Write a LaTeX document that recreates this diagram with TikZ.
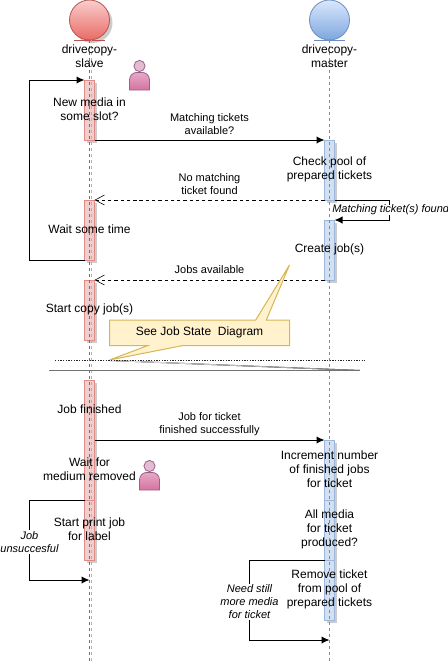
\documentclass[tikz,border=0pt]{standalone}
\usepackage{fontspec}
\setmainfont{Liberation Sans}
\usepackage{tikz}
\usetikzlibrary{arrows.meta, shadows}

\definecolor{slaveline}{HTML}{B85450}
\definecolor{slaveedge}{HTML}{E08A88}
\definecolor{slavefill}{HTML}{EFCFCE}
\definecolor{slavetop}{HTML}{F8CECC}
\definecolor{slavebot}{HTML}{EA6B66}
\definecolor{masterline}{HTML}{6C8EBF}
\definecolor{masteredge}{HTML}{9DB7DC}
\definecolor{masterfill}{HTML}{D3E0F1}
\definecolor{mastertop}{HTML}{DAE8FC}
\definecolor{masterbot}{HTML}{7EA6E0}
\definecolor{noteline}{HTML}{D6B656}
\definecolor{notefill}{HTML}{FFF2CC}
\definecolor{personline}{HTML}{996185}
\definecolor{persontop}{HTML}{E6A9C8}
\definecolor{personbot}{HTML}{D5739D}
\definecolor{personhead}{HTML}{E3BCD3}

\tikzset{
	grayshadow/.style={general shadow={shadow xshift=2pt, shadow yshift=-2pt, fill=black!20}},
	slavebox/.style={draw=slaveedge, fill=slavefill, minimum width=7.5pt, inner sep=0pt, outer sep=0pt, line width=0.75pt, grayshadow},
	masterbox/.style={draw=masteredge, fill=masterfill, minimum width=7.5pt, inner sep=0pt, outer sep=0pt, line width=0.75pt, grayshadow},
	headcircle/.style={circle, minimum size=30pt, inner sep=0pt, outer sep=0pt, line width=0.6pt},
	lifeline/.style={dashed, dash pattern=on 2.5pt off 2pt, line width=0.5pt},
	msg/.style={line width=0.75pt, -{Latex[length=6pt, width=5.5pt]}},
	reply/.style={line width=0.75pt, dash pattern=on 2.5pt off 2.2pt, -{Straight Barb[length=7pt, width=7.5pt, line width=0.45pt]}},
	label/.style={align=center, inner sep=0pt, font=\fontsize{9}{10.5}\selectfont},
	small/.style={align=center, inner sep=0pt, font=\fontsize{8.25}{9.75}\selectfont},
	guard/.style={align=center, inner sep=0.8pt, fill=white, font=\fontsize{8.25}{9.75}\selectfont\itshape},
	person/.pic={
		\draw[personline, line width=0.6pt, top color=persontop, bottom color=personbot]
			(-10,24) -- (-10,14) .. controls (-10,9) and (-6,6.5) .. (-3,6.5) -- (3,6.5) .. controls (6,6.5) and (10,9) .. (10,14) -- (10,24) -- cycle;
		\draw[personline, line width=0.6pt, fill=personhead] (0,0) circle (5.6);
	},
}

\begin{document}
\begin{tikzpicture}[x=0.75pt, y=-0.75pt]
	\useasboundingbox (0,0) rectangle (447,664);

	% kopf der beiden spalten
	\fill[black!20] (92.5,23) circle (20);
	\node[headcircle, draw=slaveline, top color=slavetop, bottom color=slavebot] (slave) at (89.5,20) {};
	\node[headcircle, draw=masterline, top color=mastertop, bottom color=masterbot] (master) at (329.5,20) {};
	\draw[slaveline, line width=0.6pt] (74,40.5) -- (105,40.5);
	\draw[masterline, line width=0.6pt] (314,40.5) -- (345,40.5);
	\coordinate (slaveend) at (89.5,664);
	\coordinate (masterend) at (329.5,664);

	% balken links
	\node[slavebox, minimum height=45pt] (slaveA) at (89.5,110) {};
	\node[slavebox, minimum height=45pt] (slaveB) at (89.5,230) {};
	\node[slavebox, minimum height=45pt] (slaveC) at (89.5,310) {};
	\node[slavebox, minimum height=90pt] (slaveD) at (89.5,440) {};
	\node[slavebox, minimum height=45pt] (slaveE) at (89.5,530) {};

	% balken rechts
	\node[masterbox, minimum height=45pt] (masterA) at (329.5,170) {};
	\node[masterbox, minimum height=45pt] (masterB) at (329.5,250) {};
	\node[masterbox, minimum height=45pt] (masterC) at (329.5,470) {};
	\node[masterbox, minimum height=45pt] (masterD) at (329.5,530) {};
	\node[masterbox, minimum height=45pt] (masterE) at (329.5,590) {};

	% lebenslinien
	\draw[lifeline, black!30] ([xshift=1.2pt]slave.south) -- ([xshift=1.2pt]slaveend);
	\draw[lifeline, slaveline] (slave.south) -- (slaveend);
	\draw[lifeline, masterline] (master.south) -- (masterend);

	% nachrichten
	\draw[msg] (slaveA.south east) -- (masterA.north west);
	\draw[reply] (masterA.south west) -- (slaveB.north east);
	\draw[reply] (masterB.south west) -- (slaveC.north east);
	\draw[msg] (slaveD.east |- masterC.north west) -- (masterC.north west);

	% schleifen
	\coordinate (loopjob) at (29.5,540);
	\coordinate (loopwait) at (29.5,170);
	\coordinate (loopfound) at (389.5,210);
	\coordinate (loopmedia) at (249.5,600);
	\coordinate (jobback) at (89.5,580);
	\coordinate (mediaback) at (329.5,640);
	\draw[msg] (slaveB.south west) -| (loopwait) |- (slaveA.north west);
	\draw[msg] (masterA.south east) -| (loopfound) |- (masterB.north east);
	\draw[msg] (slaveE.north west) -| (loopjob) |- (jobback);
	\draw[msg] (masterE.north west) -| (loopmedia) |- (mediaback);

	% notiz
	\coordinate (notetip) at (289.5,265);
	\coordinate (notelow) at (109.5,360);
	\draw[noteline, fill=notefill, line width=0.75pt] (109.5,320) -- (255.7,320) -- (notetip) -- (266.3,320) -- (289.5,320) -- (289.5,345.5) -- (183,345.5) -- (notelow) -- (148,345.5) -- (109.5,345.5) -- cycle;
	\node[label] (note) at (199.5,332) {See Job State\ \ Diagram};

	% trennlinien
	\coordinate (dotA) at (55,360);
	\coordinate (dotB) at (365,360);
	\coordinate (cutA) at (49,370);
	\coordinate (cutB) at (360,370);
	\fill[left color=black!8, right color=black!45] (notelow) -- (cutB) -- (325,369.5) -- (110,361) -- cycle;
	\draw[black!85, line width=0.5pt, dash pattern=on 1pt off 1pt] (dotA) -- (dotB);
	\draw[black!55, line width=0.7pt] (cutA) -- (cutB);

	% texte
	\node[label] (slavename) at (89.5,56) {drivecopy-\\slave};
	\node[label] (mastername) at (329.5,56) {drivecopy-\\master};
	\node[label] (newmedia) at (89.5,109) {New media in\\some slot?};
	\node[label] (waittime) at (89.5,229) {Wait some time};
	\node[label] (startcopy) at (89.5,309) {Start copy job(s)};
	\node[label] (finished) at (89.5,409) {Job finished};
	\node[label] (waitmedium) at (89.5,469) {Wait for\\medium removed};
	\node[label] (startprint) at (89.5,529) {Start print job\\for label};
	\node[label] (checkpool) at (329.5,169) {Check pool of\\prepared tickets};
	\node[label] (createjob) at (329.5,249) {Create job(s)};
	\node[label] (increment) at (329.5,469) {Increment number\\of finished jobs\\for ticket};
	\node[label] (allmedia) at (329.5,529) {All media\\for ticket\\produced?};
	\node[label] (removeticket) at (329.5,589) {Remove ticket\\from pool of\\prepared tickets};

	\node[small] (asktickets) at (209.5,124) {Matching tickets\\available?};
	\node[small] (nomatch) at (209.5,184) {No matching\\ticket found};
	\node[small] (jobsthere) at (209.5,270) {Jobs available};
	\node[small] (jobdone) at (209.5,424) {Job for ticket\\finished successfully};

	\node[guard, anchor=west, inner sep=0pt] (foundtxt) at (332,210) {Matching ticket(s) found};
	\node[guard] (jobfail) at (29.5,542) {Job\\unsuccesful};
	\node[guard] (needmore) at (249.5,602) {Need still\\more media\\for ticket};

	% personen
	\pic at (139.5,66) {person};
	\pic at (149.5,466) {person};
\end{tikzpicture}
\end{document}
